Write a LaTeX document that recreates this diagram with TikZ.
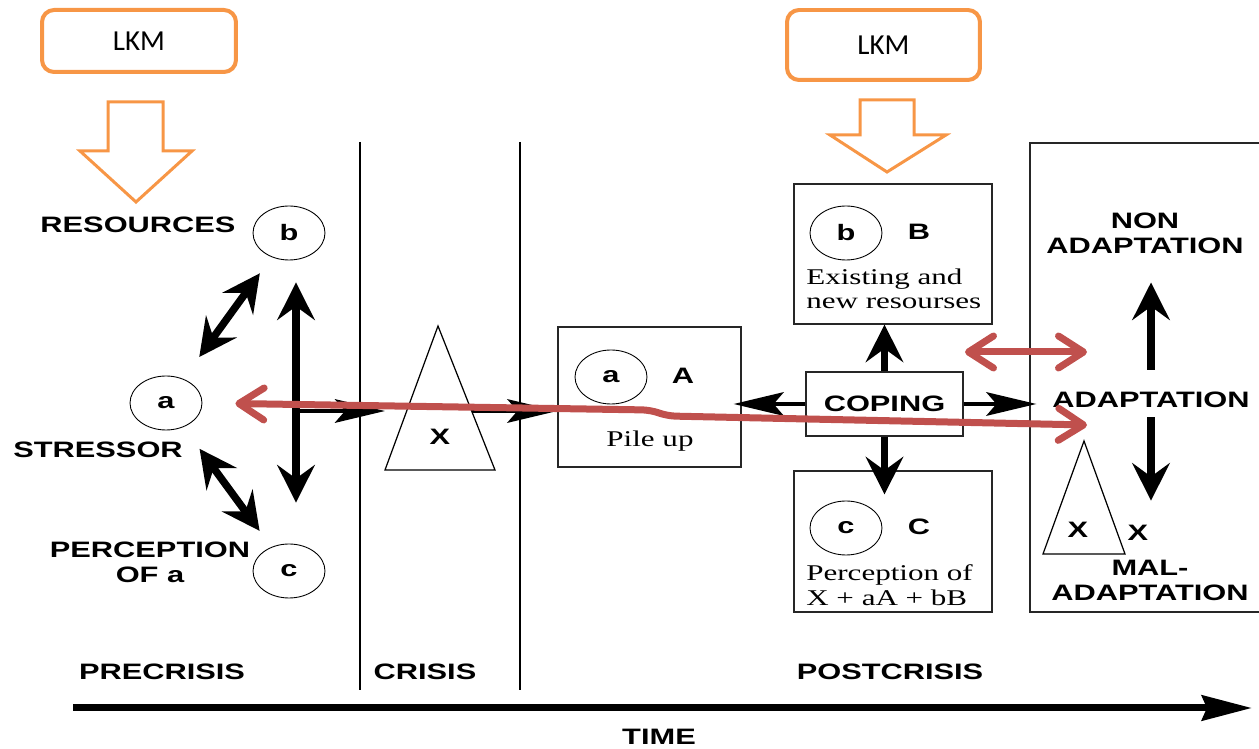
\documentclass[tikz,border=0pt]{standalone}
\usepackage{fontspec}
\newfontfamily\lkmfont{Carlito}
\newfontfamily\labfont{Liberation Sans}[FakeStretch=1.38]
\newfontfamily\serfont{Liberation Serif}[FakeStretch=1.38]
\usetikzlibrary{arrows.meta,shapes.geometric}
\definecolor{lkmorange}{HTML}{F79646}
\definecolor{arrred}{HTML}{C0504D}

\tikzset{
  lkm/.style={draw=lkmorange, line width=0.08cm, rounded corners=0.24cm, font=\lkmfont\fontsize{16.5}{19}\selectfont},
  blockarr/.style={draw=lkmorange, line width=0.06cm},
  lab/.style={font=\labfont\bfseries\fontsize{12.7}{14.2}\selectfont, align=center, inner sep=1pt},
  ser/.style={font=\serfont\fontsize{12.8}{14}\selectfont, align=left, inner sep=0pt},
  letr/.style={lab, draw, ellipse, line width=0.5pt, minimum width=1.44cm, minimum height=1.08cm, inner sep=0pt},
  pbox/.style={draw=black!85, line width=0.7pt, inner sep=0pt},
  blk/.style={line width=0.15cm, >={Stealth[length=0.75cm,width=0.75cm,inset=0.27cm]}},
  harr/.style={line width=0.09cm, ->, >={Stealth[length=1cm,width=0.47cm,inset=0.2cm]}},
  redarr/.style={draw=arrred, line width=0.14cm, line cap=round, line join=round, >={Straight Barb[length=0.5cm,width=0.64cm,round]}},
}

\begin{document}
\begin{tikzpicture}[x=0.02cm, y=-0.02cm]
\useasboundingbox (0,0) rectangle (1259,749);

\node[lkm, minimum width=3.88cm, minimum height=1.24cm] (lkm1) at (139,41) {LKM};
\node[lkm, minimum width=3.86cm, minimum height=1.4cm] (lkm2) at (883.5,45) {LKM};
\draw[blockarr] (108,102) -- (163,102) -- (163,151) -- (192,151) -- (136,202) -- (80,151) -- (108,151) -- cycle;
\draw[blockarr] (860,100) -- (914,100) -- (914,135) -- (946,135) -- (887,172) -- (830,135) -- (860,135) -- cycle;

\draw[line width=0.7pt] (360,142) -- (360,690);
\draw[line width=0.7pt] (520,142) -- (520,690);

\node[letr] (b) at (289,233) {b};
\node[letr] (a) at (166,403) {a};
\node[letr] (c) at (289,571) {c};
\node[lab] (res) at (138,225) {RESOURCES};
\node[lab] (str) at (98,450) {STRESSOR};
\node[lab] (perc) at (150,562) {PERCEPTION\\OF a};

\draw[blk,<->,shorten <=0.54cm,shorten >=0.4cm] (a) -- (b);
\draw[blk,<->,shorten <=0.54cm,shorten >=0.4cm] (a) -- (c);
\draw[blk,<->,shorten <=0.44cm,shorten >=0.82cm] ([xshift=0.14cm]b.south) -- ([xshift=0.14cm]c.north);

\node[pbox, minimum width=3.66cm, minimum height=2.8cm] (pile) at (649.5,397) {};
\node[letr] (pa) at (611,377) {a};
\node[lab] (pA) at (683,376) {A};
\node[ser] (pup) at (650,441) {Pile up};

\coordinate (hub) at (296,411);
\coordinate (tl) at (385,411);
\coordinate (tr) at (472,411);
\draw[harr] (hub) -- (tl);
\draw[line width=0.7pt] (438,326) -- (495,470) -- (385,470) -- cycle;
\node[lab] (cx) at (440,437) {X};
\draw[harr] (tr) -- (tr -| pile.west);

\node[pbox, minimum width=3.96cm, minimum height=2.8cm] (boxb) at (893,254) {};
\node[letr] (bb) at (846,233) {b};
\node[lab] (bB) at (919,232) {B};
\node[ser, anchor=west] (bres) at (806,289) {Existing and\\new resourses};

\node[pbox, minimum width=3.96cm, minimum height=2.82cm] (boxc) at (893,541.5) {};
\node[letr] (cc) at (846,528) {c};
\node[lab] (cC) at (919,527) {C};
\node[ser, anchor=west] (cper) at (806,585) {Perception of\\X + aA + bB};

\node[pbox, lab, minimum width=3.14cm, minimum height=1.28cm] (cope) at (884.5,404) {COPING};

\node[pbox, minimum width=4.72cm, minimum height=9.38cm] (outbox) at (1148,377.5) {};
\node[lab] (nonad) at (1145,233) {NON\\ADAPTATION};
\node[lab] (adapt) at (1151,400) {ADAPTATION};
\node[lab] (malad) at (1150,580) {MAL-\\ADAPTATION};
\draw[line width=0.7pt] (1084,441) -- (1125,554) -- (1043,554) -- cycle;
\node[lab] (mx1) at (1078,530) {X};
\node[lab] (mx2) at (1138,533) {X};

\draw[blk,->,shorten <=0.4cm,shorten >=0.54cm] (adapt.north) -- (adapt.north |- nonad.south);
\draw[blk,->,shorten <=0.14cm,shorten >=1.14cm] (adapt.south) -- (adapt.south |- malad.north);

\draw[harr,shorten >=-0.16cm] (cope.west) -- (cope.west -| pile.east);
\draw[harr,shorten >=-0.14cm] (cope.east) -- (cope.east -| outbox.west);
\draw[blk,->] (cope.north) -- (cope.north |- boxb.south);
\draw[blk,->,shorten >=-0.48cm] (cope.south) -- (cope.south |- boxc.north);

\coordinate (r1) at (965,352);
\coordinate (r2) at (1087,352);
\coordinate (k1) at (650,410);
\coordinate (k2) at (668,416);
\coordinate (rend) at (1087,425);
\draw[redarr,<->] (r1) -- (r2);
\draw[redarr,<->,rounded corners=0.16cm,shorten <=0.66cm] (a.east) -- (k1) -- (k2) -- (rend);

\coordinate (t0) at (73,708);
\coordinate (t1) at (1252,708);
\draw[line width=0.14cm, -{Stealth[length=1cm,width=0.5cm,inset=0.1cm]}] (t0) -- (t1);
\node[lab] (pre) at (162,672) {PRECRISIS};
\node[lab] (cri) at (425,672) {CRISIS};
\node[lab] (post) at (890,672) {POSTCRISIS};
\node[lab] (time) at (659,737) {TIME};
\end{tikzpicture}
\end{document}
